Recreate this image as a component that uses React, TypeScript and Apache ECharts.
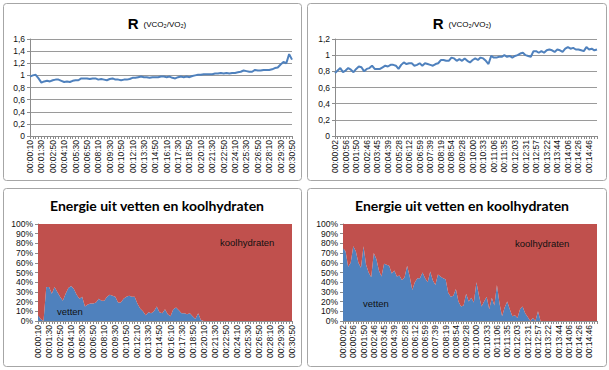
import React, { useEffect, useRef } from "react";
import * as echarts from "echarts";

const LEFT_TICKS = [
  "00:00:10", "00:01:30", "00:02:50", "00:04:10", "00:05:30", "00:06:50",
  "00:08:10", "00:09:30", "00:10:50", "00:12:10", "00:13:30", "00:14:50",
  "00:16:10", "00:17:30", "00:18:50", "00:20:10", "00:21:30", "00:22:50",
  "00:24:10", "00:25:30", "00:26:50", "00:28:10", "00:29:30", "00:30:50",
];

const RIGHT_TICKS = [
  "00:00:02", "00:00:56", "00:01:50", "00:02:46", "00:03:45", "00:04:39",
  "00:05:28", "00:06:12", "00:06:59", "00:07:39", "00:08:19", "00:08:54",
  "00:09:28", "00:10:00", "00:10:33", "00:11:06", "00:11:35", "00:12:03",
  "00:12:31", "00:12:57", "00:13:22", "00:13:44", "00:14:06", "00:14:26",
  "00:14:46",
];

// R (VCO2/VO2), left test, one sample per 20 s
const R_LEFT = [
  0.98, 1.0, 1.01, 0.95,
  0.88, 0.9, 0.91, 0.9,
  0.92, 0.93, 0.93, 0.91,
  0.89, 0.9, 0.89, 0.91,
  0.92, 0.92, 0.95, 0.95,
  0.95, 0.94, 0.95, 0.95,
  0.93, 0.94, 0.93, 0.92,
  0.94, 0.95, 0.93, 0.93,
  0.92, 0.93, 0.93, 0.94,
  0.96, 0.96, 0.97, 0.98,
  0.97, 0.97, 0.96, 0.97,
  0.97, 0.97, 0.98, 0.98,
  0.97, 0.98, 0.96, 0.95,
  0.97, 0.98, 0.97, 0.98,
  0.97, 0.99, 1.0, 1.01,
  1.01, 1.02, 1.02, 1.02,
  1.02, 1.03, 1.03, 1.04,
  1.03, 1.04, 1.03, 1.04,
  1.04, 1.05, 1.06, 1.08,
  1.07, 1.06, 1.06, 1.09,
  1.08, 1.08, 1.09, 1.09,
  1.09, 1.1, 1.12, 1.13,
  1.18, 1.22, 1.2, 1.35,
  1.26,
];

// R (VCO2/VO2), right test
const R_RIGHT = [
  0.78, 0.81, 0.84, 0.79,
  0.81, 0.84, 0.82, 0.79,
  0.83, 0.86, 0.85, 0.8,
  0.83, 0.84, 0.87, 0.83,
  0.83, 0.83, 0.85, 0.87,
  0.86, 0.88, 0.88, 0.87,
  0.83, 0.88, 0.91, 0.89,
  0.9, 0.9, 0.87, 0.88,
  0.9, 0.87, 0.9, 0.89,
  0.88, 0.87, 0.89, 0.9,
  0.94, 0.94, 0.93, 0.93,
  0.97, 0.96, 0.93, 0.95,
  0.93, 0.96, 0.93, 0.91,
  0.94, 0.96, 0.94, 0.97,
  0.96, 0.93, 0.89, 0.99,
  0.97, 0.97, 0.98, 0.98,
  1.0, 0.98, 0.99, 0.97,
  0.99, 1.0, 1.02, 1.03,
  1.0, 0.99, 0.98, 1.05,
  1.05, 1.03, 1.05, 1.03,
  1.06, 1.07, 1.06, 1.04,
  1.07, 1.06, 1.04, 1.08,
  1.1, 1.08, 1.09, 1.07,
  1.07, 1.06, 1.05, 1.1,
  1.07, 1.08, 1.06, 1.07,
];

// share of energy from fat (%), left test
const FAT_LEFT = [
  6, 2, 0, 35,
  35, 28, 35, 30,
  25, 21, 28, 34,
  36, 33, 27, 23,
  25, 15, 17, 18,
  18, 19, 23, 21,
  21, 25, 27, 26,
  25, 19, 19, 23,
  25, 26, 25, 25,
  18, 13, 10, 6,
  9, 8, 10, 15,
  9, 8, 12, 7,
  5, 12, 14, 11,
  8, 8, 7, 8,
  5, 2, 8, 1,
  0, 0, 0, 0,
  0, 0, 0, 0,
  0, 0, 0, 0,
  0, 0, 0, 0,
  0, 0, 0, 0,
  0, 0, 0, 0,
  0, 0, 0, 0,
  0, 0, 0, 0,
  0,
];

// share of energy from fat (%), right test
const FAT_RIGHT = [
  75, 72, 56, 60,
  77, 72, 60, 55,
  77, 58, 50, 45,
  70, 64, 52, 46,
  59, 58, 57, 49,
  52, 46, 47, 42,
  45, 57, 46, 32,
  40, 44, 44, 50,
  44, 40, 51, 42,
  37, 48, 46, 44,
  43, 29, 25, 26,
  33, 20, 15, 16,
  28, 20, 24, 19,
  40, 26, 15, 20,
  25, 12, 24, 16,
  37, 18, 5, 14,
  20, 12, 5, 6,
  3, 12, 15, 8,
  4, 0, 3, 0,
  10, 0, 0, 0,
  0, 0, 0, 0,
  0, 0, 0, 0,
  0, 0, 0, 0,
  0, 0, 0, 0,
  0, 0, 0, 0,
];

const BLUE = "#4F81BD";
const RED = "#C0504D";

function toSec(s: string): number {
  const [h, m, x] = s.split(":").map(Number);
  return h * 3600 + m * 60 + x;
}
function fmt(t: number): string {
  const h = Math.floor(t / 3600);
  const m = Math.floor((t % 3600) / 60);
  const s = t % 60;
  const p = (n: number) => String(n).padStart(2, "0");
  return `${p(h)}:${p(m)}:${p(s)}`;
}

// left test sampled every 20 s from 00:00:10
const LEFT_CATS = R_LEFT.map((_, i) => fmt(toSec(LEFT_TICKS[0]) + 20 * i));

// right test: 4 samples per labelled interval, then 3 more after the last tick
const RIGHT_CATS: string[] = (() => {
  const out: string[] = [];
  for (let k = 0; k < RIGHT_TICKS.length - 1; k++) {
    const a = toSec(RIGHT_TICKS[k]);
    const b = toSec(RIGHT_TICKS[k + 1]);
    out.push(RIGHT_TICKS[k]);
    for (let j = 1; j < 4; j++) out.push(fmt(Math.round(a + ((b - a) * j) / 4)) + "·");
  }
  const last = toSec(RIGHT_TICKS[RIGHT_TICKS.length - 1]);
  out.push(RIGHT_TICKS[RIGHT_TICKS.length - 1]);
  while (out.length < R_RIGHT.length) out.push(fmt(last + 5 * (out.length - 96)) + "·");
  return out;
})();

const AX_FONT = "Liberation Sans";

function xAxis(gridIndex: number, data: string[]) {
  return {
    type: "category",
    gridIndex,
    data,
    boundaryGap: false,
    axisLine: { lineStyle: { color: "#8c8c8c", width: 1 } },
    axisTick: { show: true, interval: 0, length: 3, lineStyle: { color: "#8c8c8c" } },
    axisLabel: {
      interval: 3,
      rotate: 90,
      margin: 4,
      fontSize: 8.5,
      fontFamily: AX_FONT,
      color: "#111",
    },
    splitLine: { show: false },
  };
}

function yAxisR(gridIndex: number, max: number) {
  return {
    type: "value",
    gridIndex,
    min: 0,
    max,
    interval: 0.2,
    axisLine: { show: true, lineStyle: { color: "#8c8c8c" } },
    axisTick: { show: true, length: 3, lineStyle: { color: "#8c8c8c" } },
    axisLabel: {
      fontSize: 8.5,
      fontFamily: AX_FONT,
      color: "#111",
      margin: 5,
      formatter: (v: number) => String(Math.round(v * 10) / 10).replace(".", ","),
    },
    splitLine: { show: true, lineStyle: { color: "#9a9a9a", width: 1 } },
  };
}

function yAxisPct(gridIndex: number) {
  return {
    type: "value",
    gridIndex,
    min: 0,
    max: 100,
    interval: 10,
    axisLine: { show: true, lineStyle: { color: "#8c8c8c" } },
    axisTick: { show: true, length: 3, lineStyle: { color: "#8c8c8c" } },
    axisLabel: {
      fontSize: 8.5,
      fontFamily: AX_FONT,
      color: "#111",
      margin: 5,
      formatter: (v: number) => `${v}%`,
    },
    splitLine: { show: false },
  };
}

function rTitle(x: number) {
  return {
    text: "{a|R} {b|(VCO₂/VO₂)}",
    left: x,
    top: 9,
    textAlign: "center",
    textStyle: {
      rich: {
        a: { fontSize: 15, fontWeight: "bold", fontFamily: "Liberation Sans", color: "#000" },
        b: { fontSize: 8, fontWeight: "normal", fontFamily: "Liberation Sans", color: "#000", padding: [3, 0, 0, 0] },
      },
    },
  };
}

function eTitle(x: number) {
  return {
    text: "Energie uit vetten en koolhydraten",
    left: x,
    top: 193,
    textAlign: "center",
    textStyle: { fontSize: 14, fontWeight: "bold", fontFamily: "Lato", color: "#000" },
  };
}

function panel(x: number, y: number, w: number, h: number) {
  return {
    type: "rect",
    z: -10,
    shape: { x, y, width: w, height: h, r: 3 },
    style: { fill: "#fff", stroke: "#a6a6a6", lineWidth: 1 },
  };
}

function label(text: string, x: number, y: number) {
  return {
    type: "text",
    z: 100,
    x,
    y,
    style: { text, font: "9.5px 'Liberation Sans'", fill: "#111" },
  };
}

export default function App() {
  const ref = useRef<HTMLDivElement>(null);
  useEffect(() => {
    if (!ref.current) return;
    const chart = echarts.init(ref.current, undefined, { renderer: "svg" });
    const carbLeft = FAT_LEFT.map((v) => 100 - v);
    const carbRight = FAT_RIGHT.map((v) => 100 - v);
    chart.setOption({
      animation: false,
      backgroundColor: "#fff",
      title: [rTitle(152), rTitle(457), eTitle(152), eTitle(457)],
      graphic: [
        panel(3.5, 3.5, 298, 177),
        panel(307.5, 3.5, 299, 177),
        panel(3.5, 188.5, 298, 178),
        panel(307.5, 188.5, 299, 178),
        label("koolhydraten", 220, 237),
        label("vetten", 57, 306),
        label("koolhydraten", 515, 238),
        label("vetten", 363, 298),
      ],
      grid: [
        { left: 30, top: 39, width: 262, height: 97 },
        { left: 335, top: 39, width: 262, height: 97 },
        { left: 38, top: 224, width: 254, height: 97 },
        { left: 343, top: 224, width: 254, height: 97 },
      ],
      xAxis: [
        xAxis(0, LEFT_CATS),
        xAxis(1, RIGHT_CATS),
        xAxis(2, LEFT_CATS),
        xAxis(3, RIGHT_CATS),
      ],
      yAxis: [yAxisR(0, 1.6), yAxisR(1, 1.2), yAxisPct(2), yAxisPct(3)],
      series: [
        {
          type: "line",
          xAxisIndex: 0,
          yAxisIndex: 0,
          data: R_LEFT,
          showSymbol: false,
          lineStyle: { color: BLUE, width: 2 },
          itemStyle: { color: BLUE },
        },
        {
          type: "line",
          xAxisIndex: 1,
          yAxisIndex: 1,
          data: R_RIGHT,
          showSymbol: false,
          lineStyle: { color: BLUE, width: 2 },
          itemStyle: { color: BLUE },
        },
        {
          name: "vetten",
          type: "line",
          xAxisIndex: 2,
          yAxisIndex: 2,
          stack: "L",
          data: FAT_LEFT,
          showSymbol: false,
          lineStyle: { width: 0 },
          areaStyle: { color: BLUE, opacity: 1 },
          itemStyle: { color: BLUE },
        },
        {
          name: "koolhydraten",
          type: "line",
          xAxisIndex: 2,
          yAxisIndex: 2,
          stack: "L",
          data: carbLeft,
          showSymbol: false,
          lineStyle: { width: 0 },
          areaStyle: { color: RED, opacity: 1 },
          itemStyle: { color: RED },
        },
        {
          name: "vetten",
          type: "line",
          xAxisIndex: 3,
          yAxisIndex: 3,
          stack: "R",
          data: FAT_RIGHT,
          showSymbol: false,
          lineStyle: { width: 0 },
          areaStyle: { color: BLUE, opacity: 1 },
          itemStyle: { color: BLUE },
        },
        {
          name: "koolhydraten",
          type: "line",
          xAxisIndex: 3,
          yAxisIndex: 3,
          stack: "R",
          data: carbRight,
          showSymbol: false,
          lineStyle: { width: 0 },
          areaStyle: { color: RED, opacity: 1 },
          itemStyle: { color: RED },
        },
      ],
    });
    return () => chart.dispose();
  }, []);
  return (
    <div
      ref={ref}
      style={{ position: "fixed", left: 0, top: 0, width: 609, height: 370 }}
    />
  );
}
